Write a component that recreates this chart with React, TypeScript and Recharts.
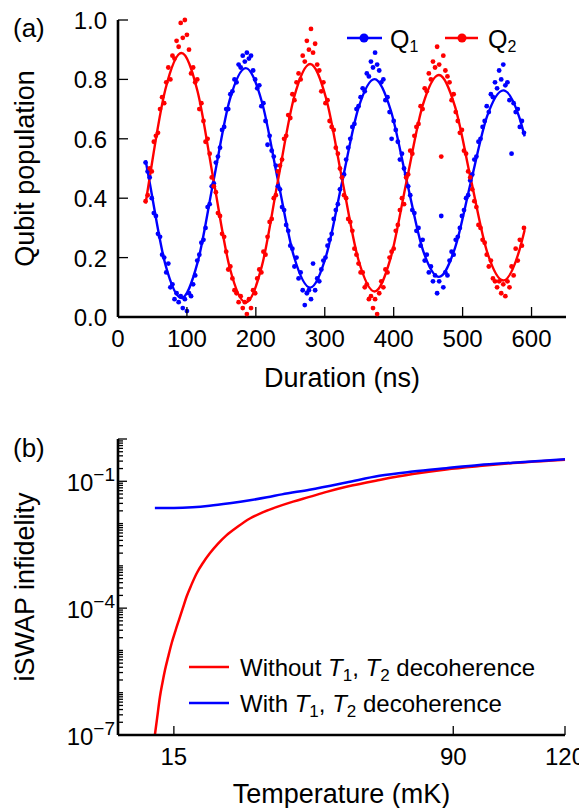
import React from 'react';
import { ComposedChart, LineChart, Line, Scatter, XAxis, YAxis } from 'recharts';

const FONT = '"Liberation Sans", Arial, sans-serif';
const BLUE = '#0000ff';
const RED = '#ff0000';

// ---------- Panel (a): swap oscillations ----------
const durations = [
  40, 43, 46, 49, 52, 55, 58, 61, 64, 67,
  70, 73, 76, 79, 82, 85, 88, 91, 94, 97,
  100, 103, 106, 109, 112, 115, 118, 121, 124, 127,
  130, 133, 136, 139, 142, 145, 148, 151, 154, 157,
  160, 163, 166, 169, 172, 175, 178, 181, 184, 187,
  190, 193, 196, 199, 202, 205, 208, 211, 214, 217,
  220, 223, 226, 229, 232, 235, 238, 241, 244, 247,
  250, 253, 256, 259, 262, 265, 268, 271, 274, 277,
  280, 283, 286, 289, 292, 295, 298, 301, 304, 307,
  310, 313, 316, 319, 322, 325, 328, 331, 334, 337,
  340, 343, 346, 349, 352, 355, 358, 361, 364, 367,
  370, 373, 376, 379, 382, 385, 388, 391, 394, 397,
  400, 403, 406, 409, 412, 415, 418, 421, 424, 427,
  430, 433, 436, 439, 442, 445, 448, 451, 454, 457,
  460, 463, 466, 469, 472, 475, 478, 481, 484, 487,
  490, 493, 496, 499, 502, 505, 508, 511, 514, 517,
  520, 523, 526, 529, 532, 535, 538, 541, 544, 547,
  550, 553, 556, 559, 562, 565, 568, 571, 574, 577,
  580, 583, 586, 589,
];

const q1Population = [
  0.52, 0.49, 0.47, 0.40, 0.35, 0.34, 0.28, 0.27, 0.21, 0.20,
  0.15, 0.18, 0.10, 0.11, 0.06, 0.08, 0.05, 0.07, 0.03, 0.06,
  0.02, 0.08, 0.07, 0.11, 0.14, 0.19, 0.21, 0.25, 0.26, 0.30,
  0.37, 0.38, 0.44, 0.45, 0.52, 0.54, 0.57, 0.63, 0.64, 0.70,
  0.70, 0.75, 0.76, 0.80, 0.79, 0.85, 0.84, 0.88, 0.86, 0.89,
  0.87, 0.88, 0.83, 0.80, 0.77, 0.78, 0.71, 0.72, 0.66, 0.58,
  0.61, 0.56, 0.54, 0.51, 0.44, 0.43, 0.37, 0.36, 0.31, 0.29,
  0.24, 0.23, 0.17, 0.20, 0.13, 0.15, 0.09, 0.04, 0.08, 0.09,
  0.06, 0.18, 0.09, 0.13, 0.12, 0.16, 0.19, 0.20, 0.24, 0.26,
  0.28, 0.33, 0.36, 0.38, 0.43, 0.47, 0.48, 0.53, 0.57, 0.60,
  0.64, 0.65, 0.70, 0.71, 0.74, 0.77, 0.76, 0.82, 0.81, 0.86,
  0.84, 0.89, 0.85, 0.83, 0.79, 0.80, 0.73, 0.74, 0.69, 0.60,
  0.66, 0.63, 0.59, 0.53, 0.55, 0.50, 0.48, 0.44, 0.41, 0.36,
  0.35, 0.29, 0.30, 0.24, 0.26, 0.19, 0.21, 0.15, 0.17, 0.12,
  0.14, 0.08, 0.12, 0.34, 0.10, 0.15, 0.14, 0.19, 0.22, 0.21,
  0.26, 0.27, 0.30, 0.34, 0.36, 0.40, 0.41, 0.46, 0.48, 0.53,
  0.54, 0.59, 0.60, 0.64, 0.66, 0.71, 0.69, 0.75, 0.74, 0.79,
  0.77, 0.83, 0.80, 0.85, 0.78, 0.79, 0.73, 0.55, 0.72, 0.69,
  0.70, 0.64, 0.66, 0.62,
];

const q2Population = [
  0.39, 0.41, 0.50, 0.49, 0.59, 0.61, 0.62, 0.70, 0.74, 0.72,
  0.79, 0.84, 0.80, 0.88, 0.87, 0.93, 0.91, 0.99, 0.94, 1.00,
  0.95, 0.90, 0.82, 0.84, 0.79, 0.80, 0.70, 0.72, 0.66, 0.59,
  0.60, 0.55, 0.47, 0.44, 0.42, 0.35, 0.34, 0.28, 0.27, 0.22,
  0.16, 0.17, 0.13, 0.09, 0.08, 0.05, 0.07, 0.03, 0.05, 0.01,
  0.06, 0.03, 0.09, 0.08, 0.13, 0.16, 0.15, 0.22, 0.21, 0.27,
  0.32, 0.33, 0.40, 0.41, 0.49, 0.51, 0.53, 0.60, 0.61, 0.68,
  0.67, 0.75, 0.73, 0.79, 0.82, 0.80, 0.88, 0.86, 0.93, 0.90,
  0.97, 0.89, 0.92, 0.85, 0.83, 0.76, 0.79, 0.72, 0.73, 0.66,
  0.64, 0.63, 0.57, 0.55, 0.50, 0.47, 0.41, 0.40, 0.33, 0.32,
  0.29, 0.23, 0.21, 0.18, 0.15, 0.15, 0.10, 0.11, 0.06, 0.07,
  0.03, 0.06, 0.01, 0.08, 0.12, 0.10, 0.16, 0.15, 0.20, 0.22,
  0.23, 0.29, 0.31, 0.36, 0.40, 0.38, 0.47, 0.48, 0.56, 0.55,
  0.61, 0.64, 0.65, 0.71, 0.70, 0.77, 0.76, 0.82, 0.80, 0.86,
  0.84, 0.91, 0.85, 0.54, 0.88, 0.83, 0.81, 0.79, 0.73, 0.75,
  0.69, 0.66, 0.62, 0.63, 0.56, 0.55, 0.49, 0.47, 0.43, 0.39,
  0.37, 0.31, 0.30, 0.26, 0.25, 0.21, 0.17, 0.19, 0.13, 0.12,
  0.10, 0.12, 0.08, 0.11, 0.07, 0.12, 0.10, 0.17, 0.14, 0.23,
  0.19, 0.26, 0.24, 0.30,
];

const fitDurations = [
  40, 45.3, 68.7, 92, 115.4, 138.7, 162.1, 185.4, 208.8, 232.1,
  255.5, 278.8, 302.2, 325.5, 348.9, 372.2, 395.6, 418.9, 442.3, 465.6,
  489.0, 512.3, 535.7, 559, 582.4, 590,
];
const q1Fit = [
  0.528, 0.461, 0.177, 0.064, 0.183, 0.460, 0.731, 0.838, 0.724, 0.460,
  0.202, 0.099, 0.208, 0.459, 0.704, 0.801, 0.697, 0.459, 0.226, 0.135,
  0.233, 0.458, 0.677, 0.763, 0.671, 0.608,
];
const q2Fit = [
  0.382, 0.460, 0.766, 0.889, 0.760, 0.460, 0.166, 0.049, 0.172, 0.460,
  0.740, 0.852, 0.734, 0.460, 0.192, 0.086, 0.199, 0.460, 0.714, 0.815,
  0.708, 0.460, 0.218, 0.123, 0.225, 0.293,
];

const durationTicks = [0, 100, 200, 300, 400, 500, 600];
const populationTicks = [0, 0.2, 0.4, 0.6, 0.8, 1.0];

// ---------- Panel (b): iSWAP infidelity vs temperature ----------
const tempWithout = [
  9.9, 10.5, 11.25, 11.9, 12.6, 13.5, 14.4, 15.4, 16.4, 17.4,
  18.4, 19.7, 21.1, 22.8, 24.6, 26.8, 29.1, 32.2, 35.4, 39,
  42.5, 47, 51.4, 56, 61.3, 70.2, 79.1, 88.1, 97, 106,
  120,
];
const infidelityWithout = [
  1.0e-7, 2.51e-7, 7.94e-7, 1.66e-6, 3.39e-6, 7.24e-6, 1.48e-5, 2.88e-5, 5.37e-5, 1.0e-4,
  1.86e-4, 3.55e-4, 6.61e-4, 1.17e-3, 1.95e-3, 3.31e-3, 5.25e-3, 8.51e-3, 1.32e-2, 1.86e-2,
  2.45e-2, 3.31e-2, 4.27e-2, 5.62e-2, 7.41e-2, 0.1072, 0.1479, 0.1905, 0.2291, 0.2692,
  0.3236,
];
const tempWith = [9.9, 15, 20, 24.6, 30, 35.4, 40, 44, 51.4, 61.3, 70.2, 79.1, 88.1, 97, 106, 120];
const infidelityWith = [
  0.02344, 0.02344, 0.02427, 0.0263, 0.0302, 0.0355, 0.0417, 0.0490, 0.0631, 0.0933,
  0.1349, 0.1698, 0.2042, 0.2427, 0.2754, 0.3311,
];

const temperatureTicks = [15, 90, 120];
const temperatureTopTicks = [15, 90];
const decadeExponents = [-7, -6, -5, -4, -3, -2, -1];
const minorMultipliers = [1, 2, 3, 4, 5, 6, 7, 8, 9];
const majorExponents = [-7, -4, -1, 0];
const labelExponents = [-7, -4, -1];

// ---------- derived tables ----------
const q1Points = durations.map((t, i) => ({ t, p: q1Population[i] }));
const q2Points = durations.map((t, i) => ({ t, p: q2Population[i] }));
const q1FitPts = fitDurations.map((t, i) => ({ t, p: q1Fit[i] }));
const q2FitPts = fitDurations.map((t, i) => ({ t, p: q2Fit[i] }));
const withoutPts = tempWithout.map((T, i) => ({ T, v: infidelityWithout[i] }));
const withPts = tempWith.map((T, i) => ({ T, v: infidelityWith[i] }));
const logTicks: number[] = [];
decadeExponents.forEach((e) => minorMultipliers.forEach((m) => logTicks.push(m * Math.pow(10, e))));
logTicks.push(1);

const TICK_W = 1.3;
const FRAME = { stroke: '#000', strokeWidth: 2.6 };

const bottomTick = (fmt: (v: number) => string, len: number) => (props: any) => {
  const { x, y, payload } = props;
  return (
    <g>
      <line x1={x} y1={y} x2={x} y2={y - len} stroke="#000" strokeWidth={TICK_W} />
      <text x={x} y={y + 30} textAnchor="middle" fontSize={24} fontFamily={FONT} fill="#000">
        {fmt(payload.value)}
      </text>
    </g>
  );
};
const topTick = (len: number) => (props: any) => {
  const { x, y } = props;
  return <line x1={x} y1={y} x2={x} y2={y + len} stroke="#000" strokeWidth={TICK_W} />;
};
const leftTick = (fmt: (v: number) => string, len: number) => (props: any) => {
  const { x, y, payload } = props;
  return (
    <g>
      <line x1={x} y1={y} x2={x + len} y2={y} stroke="#000" strokeWidth={TICK_W} />
      <text x={x - 11} y={y + 9} textAnchor="end" fontSize={24} fontFamily={FONT} fill="#000">
        {fmt(payload.value)}
      </text>
    </g>
  );
};
const rightTick = (len: number) => (props: any) => {
  const { x, y } = props;
  return <line x1={x} y1={y} x2={x - len} y2={y} stroke="#000" strokeWidth={TICK_W} />;
};
const logTick = (side: 'left' | 'right') => (props: any) => {
  const { x, y, payload } = props;
  const lg = Math.log10(payload.value);
  const e = Math.round(lg);
  const isDecade = Math.abs(lg - e) < 1e-6;
  const major = isDecade && majorExponents.includes(e);
  const len = major ? 9 : 5;
  const dir = side === 'left' ? 1 : -1;
  return (
    <g>
      <line x1={x} y1={y} x2={x + dir * len} y2={y} stroke="#000" strokeWidth={TICK_W} />
      {side === 'left' && isDecade && labelExponents.includes(e) && (
        <text x={x - 3} y={y + 10} textAnchor="end" fontSize={24} fontFamily={FONT} fill="#000">
          10
          <tspan fontSize={19} dy={-10}>{'\u2212' + Math.abs(e)}</tspan>
        </text>
      )}
    </g>
  );
};

const xLabel = (text: string, dy: number) => ({
  content: (props: any) => {
    const vb = props.viewBox || {};
    return (
      <text x={vb.x + vb.width / 2} y={vb.y + dy} textAnchor="middle" fontSize={27} fontFamily={FONT} fill="#000">
        {text}
      </text>
    );
  },
});
const yLabel = (text: string) => ({
  content: (props: any) => {
    const vb = props.viewBox || {};
    const cx = 26;
    const cy = vb.y + vb.height / 2;
    return (
      <text x={cx} y={cy} transform={`rotate(-90, ${cx}, ${cy})`} textAnchor="middle" fontSize={27} fontFamily={FONT} fill="#000">
        {text}
      </text>
    );
  },
});

const dot = (color: string) => (p: any) => <circle cx={p.cx} cy={p.cy} r={2.4} fill={color} />;

const W = 579;
const H = 400;

export default function App() {
  return (
    <div style={{ width: W, fontFamily: FONT }}>
      <div style={{ position: 'relative', width: W, height: H }}>
        <ComposedChart width={W} height={H} margin={{ top: 12, right: 21, bottom: 0, left: 0 }}>
          <XAxis
            dataKey="t" type="number" domain={[0, 650]} ticks={durationTicks} interval={0}
            tickSize={0} tickMargin={0} height={91} axisLine={FRAME} tickLine={false}
            tick={bottomTick((v) => String(v), 10)} label={xLabel('Duration (ns)', 70)}
          />
          <XAxis
            xAxisId="top" orientation="top" dataKey="t" type="number" domain={[0, 650]} ticks={durationTicks}
            interval={0} tickSize={0} tickMargin={0} height={0} axisLine={FRAME} tickLine={false} tick={topTick(10)}
          />
          <YAxis
            dataKey="p" type="number" domain={[0, 1]} ticks={populationTicks} interval={0}
            tickSize={0} tickMargin={0} width={110} axisLine={FRAME} tickLine={false}
            tick={leftTick((v) => v.toFixed(1), 10)} label={yLabel('Qubit population')}
          />
          <YAxis
            yAxisId="right" orientation="right" dataKey="p" type="number" domain={[0, 1]} ticks={populationTicks}
            interval={0} tickSize={0} tickMargin={0} width={0} axisLine={FRAME} tickLine={false} tick={rightTick(10)}
          />
          <Scatter name="Q1 data" data={q1Points} shape={dot(BLUE)} isAnimationActive={false} />
          <Scatter name="Q2 data" data={q2Points} shape={dot(RED)} isAnimationActive={false} />
          <Line data={q1FitPts} dataKey="p" type="monotone" stroke={BLUE} strokeWidth={2.4} dot={false} activeDot={false} isAnimationActive={false} />
          <Line data={q2FitPts} dataKey="p" type="monotone" stroke={RED} strokeWidth={2.4} dot={false} activeDot={false} isAnimationActive={false} />
        </ComposedChart>
        <svg width={W} height={H} style={{ position: 'absolute', left: 0, top: 0, pointerEvents: 'none' }}>
          <text x={5} y={28.5} fontSize={26} fontFamily={FONT} fill="#000">(a)</text>
          <line x1={339} y1={30} x2={374} y2={30} stroke={BLUE} strokeWidth={2.4} />
          <circle cx={356} cy={30} r={4.5} fill={BLUE} />
          <text x={382} y={40} fontSize={25} fontFamily={FONT} fill="#000">
            Q<tspan fontSize={16} dy={4}>1</tspan>
          </text>
          <line x1={437} y1={30} x2={470} y2={30} stroke={RED} strokeWidth={2.4} />
          <circle cx={454} cy={30} r={4.5} fill={RED} />
          <text x={480} y={40} fontSize={25} fontFamily={FONT} fill="#000">
            Q<tspan fontSize={16} dy={4}>2</tspan>
          </text>
        </svg>
      </div>
      <div style={{ position: 'relative', width: W, height: H }}>
        <LineChart width={W} height={H} margin={{ top: 31, right: 22, bottom: 0, left: 0 }}>
          <XAxis
            dataKey="T" type="number" domain={[0, 120]} ticks={temperatureTicks} interval={0}
            tickSize={0} tickMargin={0} height={73} axisLine={FRAME} tickLine={false}
            tick={bottomTick((v) => String(v), 9)} label={xLabel('Temperature (mK)', 68)}
          />
          <XAxis
            xAxisId="top" orientation="top" dataKey="T" type="number" domain={[0, 120]} ticks={temperatureTopTicks}
            interval={0} tickSize={0} tickMargin={0} height={0} axisLine={FRAME} tickLine={false} tick={topTick(9)}
          />
          <YAxis
            dataKey="v" type="number" scale="log" domain={[1e-7, 1]} allowDataOverflow ticks={logTicks} interval={0}
            tickSize={0} tickMargin={0} width={110} axisLine={FRAME} tickLine={false}
            tick={logTick('left')} label={yLabel('iSWAP infidelity')}
          />
          <YAxis
            yAxisId="right" orientation="right" dataKey="v" type="number" scale="log" domain={[1e-7, 1]} allowDataOverflow
            ticks={logTicks} interval={0} tickSize={0} tickMargin={0} width={0} axisLine={FRAME} tickLine={false}
            tick={logTick('right')}
          />
          <Line data={withoutPts} dataKey="v" type="monotone" stroke={RED} strokeWidth={2.5} dot={false} activeDot={false} isAnimationActive={false} />
          <Line data={withPts} dataKey="v" type="monotone" stroke={BLUE} strokeWidth={2.5} dot={false} activeDot={false} isAnimationActive={false} />
        </LineChart>
        <svg width={W} height={H} style={{ position: 'absolute', left: 0, top: 0, pointerEvents: 'none' }}>
          <text x={5} y={49} fontSize={26} fontFamily={FONT} fill="#000">(b)</text>
          <line x1={181} y1={259} x2={221} y2={259} stroke={RED} strokeWidth={2.5} />
          <text x={232} y={267.5} fontSize={24} fontFamily={FONT} fill="#000">
            Without <tspan fontStyle="italic">T</tspan>
            <tspan fontSize={17} dy={5}>1</tspan>
            <tspan dy={-5}>, </tspan>
            <tspan fontStyle="italic">T</tspan>
            <tspan fontSize={17} dy={5}>2</tspan>
            <tspan dy={-5}> decoherence</tspan>
          </text>
          <line x1={181} y1={295} x2={221} y2={295} stroke={BLUE} strokeWidth={2.5} />
          <text x={232} y={303.5} fontSize={24} fontFamily={FONT} fill="#000">
            With <tspan fontStyle="italic">T</tspan>
            <tspan fontSize={17} dy={5}>1</tspan>
            <tspan dy={-5}>, </tspan>
            <tspan fontStyle="italic">T</tspan>
            <tspan fontSize={17} dy={5}>2</tspan>
            <tspan dy={-5}> decoherence</tspan>
          </text>
        </svg>
      </div>
    </div>
  );
}
